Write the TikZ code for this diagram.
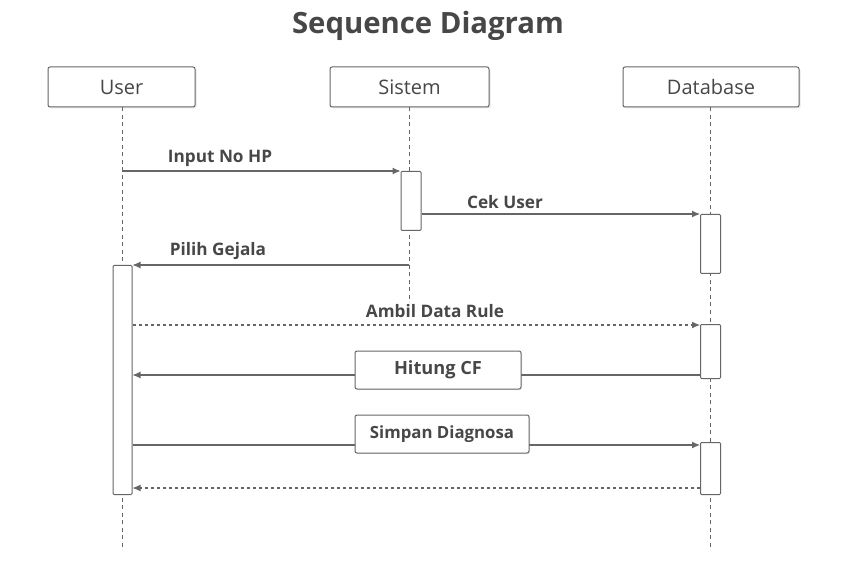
\documentclass[tikz,border=0pt]{standalone}
\usepackage{fontspec}
\setmainfont{Open Sans}
\newfontfamily\semibd{Open Sans}
\usetikzlibrary{arrows.meta,shadows}
\definecolor{ink}{HTML}{474747}
\definecolor{edge}{HTML}{666666}
\begin{document}
\begin{tikzpicture}[x=1pt,y=-1pt,
  actor/.style={draw=edge, line width=1pt, rounded corners=2pt, fill=white,
    minimum height=40pt, inner sep=0pt, text=ink, font=\semibd\fontsize{20}{24}\selectfont,
    drop shadow={opacity=0.18, shadow xshift=1.5pt, shadow yshift=-1.5pt}},
  lifeline/.style={draw=edge, line width=0.9pt, dash pattern=on 4pt off 3.5pt},
  actbox/.style={draw=edge, line width=1pt, fill=white, minimum width=20pt, inner sep=0pt, anchor=north,
    rounded corners=1pt},
  msg/.style={draw=edge, line width=1.1pt, -{Latex[length=8pt,width=7pt]}},
  retmsg/.style={msg, dash pattern=on 3pt off 3pt},
  lbl/.style={text=ink, font=\semibd\bfseries\fontsize{17.2}{21}\selectfont},
  lblbox/.style={draw=edge, line width=1pt, rounded corners=2pt, fill=white, text=ink,
    minimum height=38pt, inner sep=0pt,
    drop shadow={opacity=0.15, shadow xshift=1pt, shadow yshift=-1pt}}
]
\useasboundingbox (0,0) rectangle (843,577);
\fill[white] (0,0) rectangle (843,577);

\node[text=ink, font=\semibd\bfseries\fontsize{29.3}{36}\selectfont] (title) at (428,26) {Sequence Diagram};

% actors
\node[actor, minimum width=147pt] (user) at (121.5,87) {User};
\node[actor, minimum width=159pt] (sistem) at (409.5,87) {Sistem};
\node[actor, minimum width=176pt] (db) at (711,87) {Database};

% lifeline ends
\coordinate (userend) at (122,548);
\coordinate (sistemend) at (409,300);
\coordinate (dbend) at (710,548);

\draw[lifeline] (user.south -| userend) -- (userend);
\draw[lifeline] (sistem.south -| sistemend) -- (sistemend);
\draw[lifeline] (db.south -| dbend) -- (dbend);

% activation bars
\node[actbox, minimum height=59pt] (sa) at (411,171) {};
\node[actbox, minimum height=59pt] (da1) at (710.5,214) {};
\node[actbox, minimum height=229pt, minimum width=19pt] (ua) at (122.5,265) {};
\node[actbox, minimum height=54pt] (da2) at (710.5,324) {};
\node[actbox, minimum height=52pt] (da3) at (710.5,442) {};

% messages
\draw[msg] (userend |- sa.north west) -- (sa.north west);
\node[lbl] (l1) at (220,158) {Input No HP};

\draw[msg] (sa.east |- da1.north west) -- (da1.north west);
\node[lbl] (l2) at (505,202) {Cek User};

\draw[msg] (sistemend |- ua.north east) -- (ua.north east);
\node[lbl] (l3) at (218,251) {Pilih Gejala};

\coordinate (y4) at (0,325);
\draw[retmsg] (ua.east |- y4) -- (da2.west |- y4);
\node[lbl] (l4) at (435,311) {Ambil Data Rule};

\coordinate (y5) at (0,375);
\draw[msg] (da2.west |- y5) -- (ua.east |- y5);
\node[lblbox, minimum width=166pt, font=\semibd\bfseries\fontsize{18.2}{22}\selectfont] (l5) at (438,370) {Hitung CF};

\coordinate (y6) at (0,445);
\draw[msg] (ua.east |- y6) -- (da3.west |- y6);
\node[lblbox, minimum width=174pt, font=\semibd\bfseries\fontsize{16.8}{20}\selectfont] (l6) at (442,434) {Simpan Diagnosa};

\coordinate (y7) at (0,488);
\draw[retmsg] (da3.west |- y7) -- (ua.east |- y7);
\end{tikzpicture}
\end{document}
